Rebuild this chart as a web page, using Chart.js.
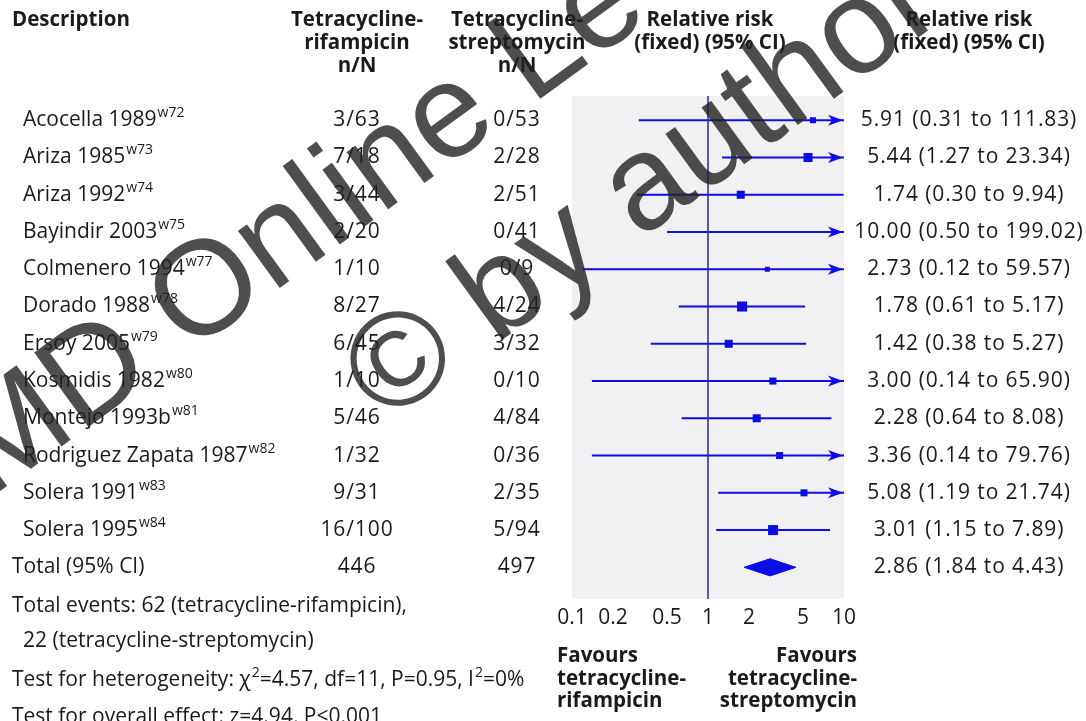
<!DOCTYPE html>
<html>
<head>
<meta charset="utf-8">
<title>Tetracycline-rifampicin vs tetracycline-streptomycin</title>
<script src="https://cdn.jsdelivr.net/npm/chart.js@4/dist/chart.umd.min.js"></script>
<style>
  html, body { margin: 0; padding: 0; background: #ffffff; }
  canvas { display: block; }
</style>
</head>
<body>
<canvas id="forest" width="1086" height="721"></canvas>
<script>
// ---- Study data ----
const studyNames = ['Acocella 1989', 'Ariza 1985', 'Ariza 1992', 'Bayindir 2003', 'Colmenero 1994',
  'Dorado 1988', 'Ersoy 2005', 'Kosmidis 1982', 'Montejo 1993b', 'Rodriguez Zapata 1987',
  'Solera 1991', 'Solera 1995'];
const studyRefs = ['w72', 'w73', 'w74', 'w75', 'w77', 'w78', 'w79', 'w80', 'w81', 'w82', 'w83', 'w84'];

const rifEvents = [3, 7, 3, 2, 1, 8, 6, 1, 5, 1, 9, 16];
const rifTotal  = [63, 18, 44, 20, 10, 27, 45, 10, 46, 32, 31, 100];
const strEvents = [0, 2, 2, 0, 0, 4, 3, 0, 4, 0, 2, 5];
const strTotal  = [53, 28, 51, 41, 9, 24, 32, 10, 84, 36, 35, 94];

const rrEst  = [5.91, 5.44, 1.74, 10.00, 2.73, 1.78, 1.42, 3.00, 2.28, 3.36, 5.08, 3.01];
const rrLow  = [0.31, 1.27, 0.30, 0.50, 0.12, 0.61, 0.38, 0.14, 0.64, 0.14, 1.19, 1.15];
const rrHigh = [111.83, 23.34, 9.94, 199.02, 59.57, 5.17, 5.27, 65.90, 8.08, 79.76, 21.74, 7.89];
// relative study weight (%), sets the box area
const studyWeight = [5.2, 11.6, 9.2, 2.3, 3.6, 14.3, 9.2, 7.0, 9.2, 7.0, 7.0, 14.3];

const totalEst = 2.86;
const totalLow = 1.84;
const totalHigh = 4.43;

const axisTicks = [0.1, 0.2, 0.5, 1, 2, 5, 10];
const axisTickLabels = ['0.1', '0.2', '0.5', '1', '2', '5', '10'];

// ---- Styling ----
const BLUE = '#0c0ce4';
const NAVY = '#26269c';
const TEXT = '#1a1a1a';
const FONT = '"Open Sans", "Noto Sans", sans-serif';
const REG = '21px ' + FONT;
const BOLD = 'bold 20.5px ' + FONT;
const SUP = '14px ' + FONT;

const X_MIN = 0.1, X_MAX = 10;
const Y_MIN = -0.65, Y_MAX = 12.85;
const TOTAL_ROW = studyNames.length;

const sum = a => a.reduce((s, v) => s + v, 0);
const fmt = v => v.toFixed(2);

// ---- Datasets ----
const datasets = [];
datasets.push({
  label: 'no effect',
  data: [{ x: 1, y: Y_MIN }, { x: 1, y: Y_MAX }],
  showLine: true, borderColor: NAVY, borderWidth: 1.5, pointRadius: 0
});
studyNames.forEach((name, i) => {
  datasets.push({
    label: name + ' CI',
    data: [{ x: rrLow[i], y: i }, { x: rrHigh[i], y: i }],
    showLine: true, borderColor: BLUE, borderWidth: 2, pointRadius: 0
  });
});
datasets.push({
  label: 'estimates',
  data: rrEst.map((v, i) => ({ x: v, y: i })),
  pointStyle: 'rect',
  pointRadius: ctx => {
    const i = ctx.dataIndex;
    if (rrEst[i] >= X_MAX) return 0;
    const side = 2.65 * Math.sqrt(studyWeight[i]);
    return side / Math.SQRT2;
  },
  backgroundColor: BLUE, borderWidth: 0
});
datasets.push({
  label: 'pooled',
  data: [
    { x: totalLow, y: TOTAL_ROW },
    { x: totalEst, y: TOTAL_ROW - 0.23 },
    { x: totalHigh, y: TOTAL_ROW },
    { x: totalEst, y: TOTAL_ROW + 0.23 },
    { x: totalLow, y: TOTAL_ROW }
  ],
  showLine: true, fill: 'shape', tension: 0,
  borderColor: BLUE, backgroundColor: BLUE, borderWidth: 1, pointRadius: 0
});

// ---- Text helpers ----
function text(ctx, str, x, y, font, align, spacing) {
  ctx.font = font;
  ctx.letterSpacing = spacing || '0px';
  ctx.textAlign = align || 'left';
  ctx.textBaseline = 'middle';
  ctx.fillStyle = TEXT;
  ctx.fillText(str, x, y);
  ctx.letterSpacing = '0px';
}
// draws runs of normal and superscript text, left aligned
function runs(ctx, parts, x, y) {
  ctx.textAlign = 'left';
  ctx.textBaseline = 'middle';
  ctx.fillStyle = TEXT;
  let cx = x;
  parts.forEach(p => {
    if (p.sup) {
      ctx.font = SUP;
      ctx.fillText(p.t, cx + 1, y - 7);
      cx += ctx.measureText(p.t).width + 1;
    } else {
      ctx.font = REG;
      ctx.fillText(p.t, cx, y);
      cx += ctx.measureText(p.t).width;
    }
  });
}

const panelPlugin = {
  id: 'panel',
  beforeDatasetsDraw(chart) {
    const { ctx, chartArea: a } = chart;
    ctx.save();
    ctx.fillStyle = '#f1f1f3';
    ctx.fillRect(a.left, a.top, a.right - a.left, a.bottom - a.top);
    ctx.restore();
  }
};

const arrowPlugin = {
  id: 'arrows',
  afterDatasetsDraw(chart) {
    const { ctx, scales } = chart;
    const xs = scales.x, ys = scales.y;
    ctx.save();
    ctx.fillStyle = BLUE;
    rrHigh.forEach((h, i) => {
      if (h <= X_MAX) return;
      const tip = xs.getPixelForValue(X_MAX) - 1;
      const y = ys.getPixelForValue(i);
      ctx.beginPath();
      ctx.moveTo(tip, y);
      ctx.lineTo(tip - 15, y - 5.5);
      ctx.lineTo(tip - 11, y);
      ctx.lineTo(tip - 15, y + 5.5);
      ctx.closePath();
      ctx.fill();
    });
    ctx.restore();
  }
};

const tablePlugin = {
  id: 'table',
  afterDraw(chart) {
    const { ctx, scales } = chart;
    const xs = scales.x, ys = scales.y;
    const C2 = 357, C3 = 517, C4 = 710, C5 = 969;
    const NUM = '0.9px';
    ctx.save();

    // headers
    text(ctx, 'Description', 12, 20, BOLD);
    text(ctx, 'Tetracycline-', C2, 20, BOLD, 'center');
    text(ctx, 'rifampicin', C2, 43, BOLD, 'center');
    text(ctx, 'n/N', C2, 66, BOLD, 'center');
    text(ctx, 'Tetracycline-', C3, 20, BOLD, 'center');
    text(ctx, 'streptomycin', C3, 43, BOLD, 'center');
    text(ctx, 'n/N', C3, 66, BOLD, 'center');
    text(ctx, 'Relative risk', C4, 20, BOLD, 'center');
    text(ctx, '(fixed) (95% CI)', C4, 43, BOLD, 'center');
    text(ctx, 'Relative risk', C5, 20, BOLD, 'center');
    text(ctx, '(fixed) (95% CI)', C5, 43, BOLD, 'center');

    // study rows
    studyNames.forEach((name, i) => {
      const y = ys.getPixelForValue(i);
      runs(ctx, [{ t: name }, { t: studyRefs[i], sup: true }], 23, y);
      text(ctx, rifEvents[i] + '/' + rifTotal[i], C2, y, REG, 'center', NUM);
      text(ctx, strEvents[i] + '/' + strTotal[i], C3, y, REG, 'center', NUM);
      text(ctx, fmt(rrEst[i]) + ' (' + fmt(rrLow[i]) + ' to ' + fmt(rrHigh[i]) + ')', C5, y, REG, 'center', NUM);
    });

    // total row
    const ty = ys.getPixelForValue(TOTAL_ROW);
    text(ctx, 'Total (95% CI)', 12, ty, REG);
    text(ctx, String(sum(rifTotal)), C2, ty, REG, 'center', NUM);
    text(ctx, String(sum(strTotal)), C3, ty, REG, 'center', NUM);
    text(ctx, fmt(totalEst) + ' (' + fmt(totalLow) + ' to ' + fmt(totalHigh) + ')', C5, ty, REG, 'center', NUM);

    // footnotes
    text(ctx, 'Total events: ' + sum(rifEvents) + ' (tetracycline-rifampicin),', 12, 606, REG);
    text(ctx, sum(strEvents) + ' (tetracycline-streptomycin)', 23, 641, REG);
    runs(ctx, [{ t: 'Test for heterogeneity: \u03c7' }, { t: '2', sup: true },
      { t: '=4.57, df=11, P=0.95, I' }, { t: '2', sup: true }, { t: '=0%' }], 12, 680);
    text(ctx, 'Test for overall effect: z=4.94, P<0.001', 12, 717, REG);

    // axis tick labels
    axisTicks.forEach((v, k) => {
      text(ctx, axisTickLabels[k], xs.getPixelForValue(v), 618, REG, 'center');
    });

    // favours labels
    const L = 557, R = 857;
    text(ctx, 'Favours', L, 656, BOLD);
    text(ctx, 'tetracycline-', L, 679, BOLD);
    text(ctx, 'rifampicin', L, 701, BOLD);
    text(ctx, 'Favours', R, 656, BOLD, 'right');
    text(ctx, 'tetracycline-', R, 679, BOLD, 'right');
    text(ctx, 'streptomycin', R, 701, BOLD, 'right');

    // watermark
    ctx.fillStyle = 'rgba(34,34,34,0.8)';
    ctx.font = '134px "Liberation Sans", Arial, sans-serif';
    ctx.textAlign = 'left';
    ctx.textBaseline = 'alphabetic';
    const ang = -36 * Math.PI / 180;
    ctx.save();
    ctx.translate(-89, 556);
    ctx.rotate(ang);
    ctx.fillText('CMD Online Le', 0, 0);
    ctx.restore();
    ctx.save();
    ctx.translate(385, 425);
    ctx.rotate(ang);
    ctx.fillText('\u00a9 by author', 0, 0);
    ctx.restore();

    ctx.restore();
  }
};

function build() {
  new Chart(document.getElementById('forest'), {
    type: 'scatter',
    data: { datasets },
    options: {
      responsive: false,
      animation: false,
      devicePixelRatio: 1,
      layout: { padding: { left: 572, right: 242, top: 96, bottom: 122 } },
      plugins: { legend: { display: false }, tooltip: { enabled: false } },
      scales: {
        x: { type: 'logarithmic', min: X_MIN, max: X_MAX, display: false },
        y: { type: 'linear', min: Y_MIN, max: Y_MAX, reverse: true, display: false }
      }
    },
    plugins: [panelPlugin, arrowPlugin, tablePlugin]
  });
}

Promise.all([
  document.fonts.load('21px "Open Sans"'),
  document.fonts.load('bold 21px "Open Sans"'),
  document.fonts.load('134px "Liberation Sans"')
]).then(build, build);
</script>
</body>
</html>
